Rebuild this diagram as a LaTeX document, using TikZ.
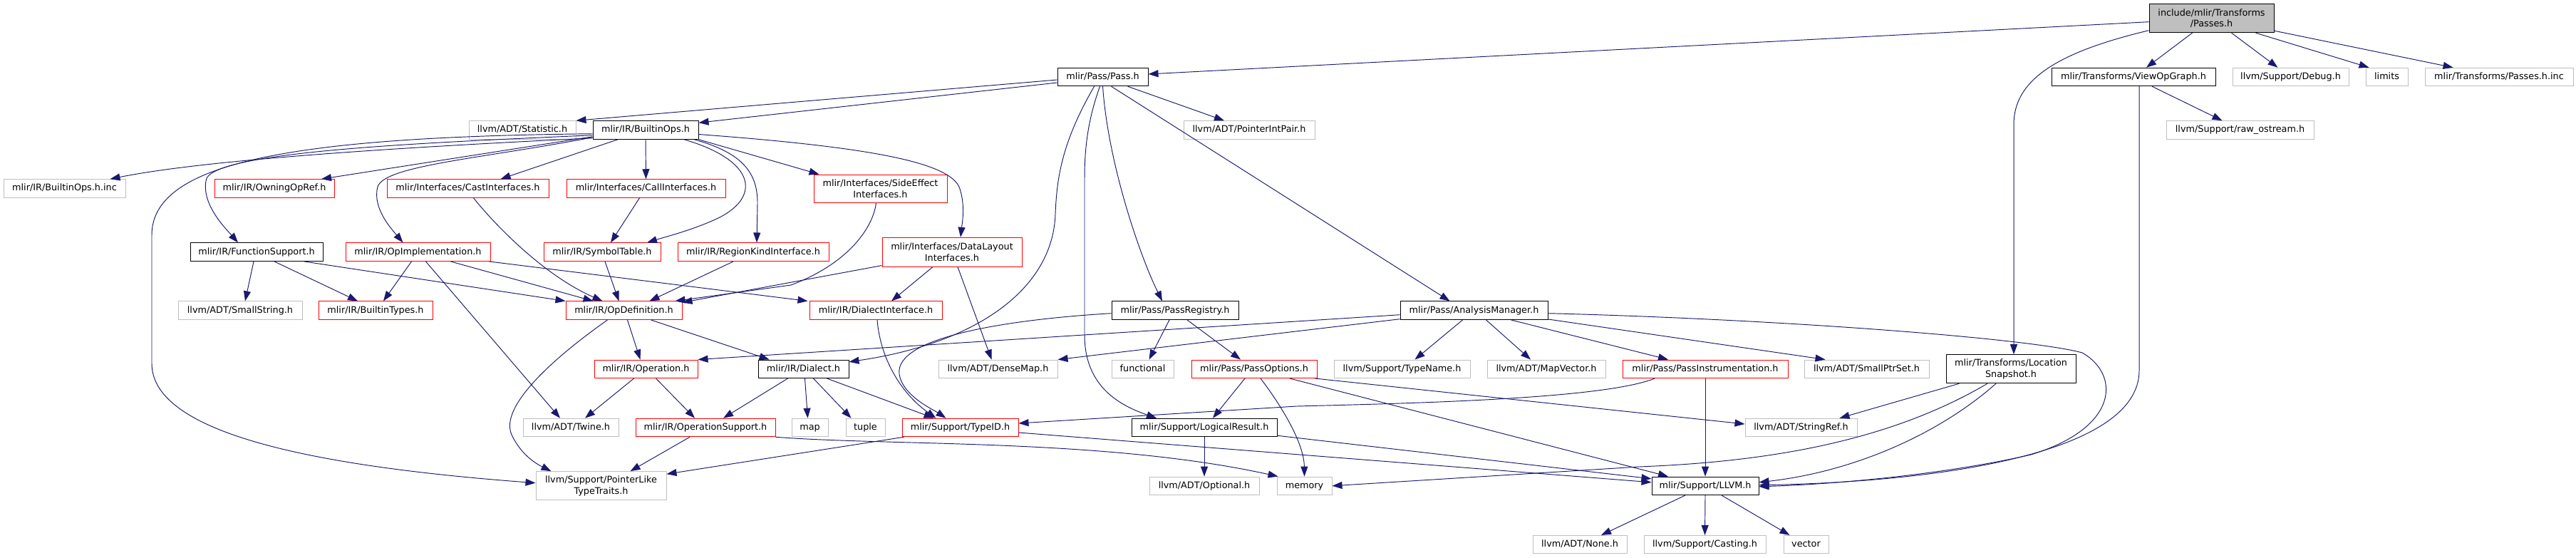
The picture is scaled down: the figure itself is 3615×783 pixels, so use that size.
\documentclass[tikz,border=0pt]{standalone}
\usepackage{fontspec}
\setmainfont{DejaVu Sans}
\usetikzlibrary{arrows.meta}
\definecolor{edgeblue}{HTML}{191970}
\definecolor{extgray}{HTML}{BFBFBF}
\definecolor{rootgray}{HTML}{BFBFBF}
\definecolor{truncred}{HTML}{FF0000}
\begin{document}
\begin{tikzpicture}[x=1pt,y=-1pt,
 nodebase/.style={draw, rectangle, inner sep=0pt, line width=1pt, font=\fontsize{12.8}{15.7}\selectfont},
 one/.style={nodebase, minimum height=25.5pt, text height=9.3pt, text depth=2.7pt},
 two/.style={nodebase, minimum height=40pt, align=center},
 blk/.style={draw=black},
 rednode/.style={draw=truncred},
 grynode/.style={draw=extgray},
 rootnode/.style={draw=black, fill=rootgray},
 dep/.style={draw=edgeblue, line width=0.95pt, -{Triangle[length=14pt,width=10pt]}}]
\useasboundingbox (0,0) rectangle (3615,783);
\fill[white] (0,0) rectangle (3615,783);

% nodes
\node[two,rootnode,minimum width=175pt] (root) at (3103.5,25.7) {include/mlir/Transforms\\/Passes.h};
% row 1
\node[one,blk,minimum width=127pt] (pass) at (1547.5,108) {mlir/Pass/Pass.h};
\node[one,blk,minimum width=230pt] (view) at (2994,108) {mlir/Transforms/ViewOpGraph.h};
\node[one,grynode,minimum width=163pt] (debug) at (3214.5,108) {llvm/Support/Debug.h};
\node[one,grynode,minimum width=59pt] (limits) at (3349.5,108) {limits};
\node[one,grynode,minimum width=208pt] (passinc) at (3507,108) {mlir/Transforms/Passes.h.inc};
% row 2
\node[one,grynode,minimum width=150pt] (stat) at (733,182.5) {llvm/ADT/Statistic.h};
\node[one,blk,minimum width=148pt] (bops) at (906,182.5) {mlir/IR/BuiltinOps.h};
\node[one,grynode,minimum width=184pt] (pip) at (1753,182.5) {llvm/ADT/PointerIntPair.h};
\node[one,grynode,minimum width=207pt] (raw) at (3143.5,182.5) {llvm/Support/raw\_ostream.h};
% row 3
\node[one,grynode,minimum width=171pt] (bopsinc) at (90.5,264.5) {mlir/IR/BuiltinOps.h.inc};
\node[one,rednode,minimum width=168pt] (owning) at (385,264.5) {mlir/IR/OwningOpRef.h};
\node[one,rednode,minimum width=227pt] (cast) at (656.5,264.5) {mlir/Interfaces/CastInterfaces.h};
\node[one,rednode,minimum width=223pt] (call) at (906.5,264.5) {mlir/Interfaces/CallInterfaces.h};
\node[two,rednode,minimum width=187pt,minimum height=39.3pt] (side) at (1235.5,264.7) {mlir/Interfaces/SideEffect\\Interfaces.h};
% row 4
\node[one,blk,minimum width=186pt] (funcs) at (360,353.7) {mlir/IR/FunctionSupport.h};
\node[one,rednode,minimum width=203pt] (opimpl) at (586.5,353.7) {mlir/IR/OpImplementation.h};
\node[one,rednode,minimum width=164pt] (symtab) at (845,353.7) {mlir/IR/SymbolTable.h};
\node[one,rednode,minimum width=212pt] (region) at (1057,353.7) {mlir/IR/RegionKindInterface.h};
\node[two,rednode,minimum width=196pt,minimum height=40.7pt] (datal) at (1336,353.7) {mlir/Interfaces/DataLayout\\Interfaces.h};
% row 5
\node[one,grynode,minimum width=174pt] (smallstr) at (337,435.7) {llvm/ADT/SmallString.h};
\node[one,rednode,minimum width=160pt] (btypes) at (527,435.7) {mlir/IR/BuiltinTypes.h};
\node[one,rednode,minimum width=163pt] (opdef) at (875.5,435.7) {mlir/IR/OpDefinition.h};
\node[one,rednode,minimum width=186pt] (dialint) at (1229,435.7) {mlir/IR/DialectInterface.h};
\node[one,blk,minimum width=178pt] (passreg) at (1649,435.7) {mlir/Pass/PassRegistry.h};
\node[one,blk,minimum width=207pt] (am) at (2068.5,435.7) {mlir/Pass/AnalysisManager.h};
% row 6
\node[one,rednode,minimum width=145pt] (operation) at (906.5,517.8) {mlir/IR/Operation.h};
\node[one,blk,minimum width=127pt] (dialect) at (1127.5,517.8) {mlir/IR/Dialect.h};
\node[one,grynode,minimum width=167pt] (densemap) at (1400.5,517.8) {llvm/ADT/DenseMap.h};
\node[one,grynode,minimum width=87pt] (functional) at (1603.5,517.8) {functional};
\node[one,rednode,minimum width=176pt] (passopt) at (1760,517.8) {mlir/Pass/PassOptions.h};
\node[one,grynode,minimum width=191pt] (typename) at (1967.5,517.8) {llvm/Support/TypeName.h};
\node[one,grynode,minimum width=166pt] (mapvec) at (2170,517.8) {llvm/ADT/MapVector.h};
\node[one,rednode,minimum width=232pt] (passinst) at (2393,517.8) {mlir/Pass/PassInstrumentation.h};
\node[one,grynode,minimum width=175pt] (smallptr) at (2619.5,517.8) {llvm/ADT/SmallPtrSet.h};
\node[two,blk,minimum width=182pt] (locsnap) at (2822,517.7) {mlir/Transforms/Location\\Snapshot.h};
% row 7
\node[one,grynode,minimum width=134pt] (twine) at (801,600) {llvm/ADT/Twine.h};
\node[one,rednode,minimum width=196pt] (opsupp) at (990,600) {mlir/IR/OperationSupport.h};
\node[one,grynode,minimum width=51pt] (map) at (1136.5,600) {map};
\node[one,grynode,minimum width=55pt] (tuple) at (1214.5,600) {tuple};
\node[one,rednode,minimum width=163pt] (typeid) at (1347.5,600) {mlir/Support/TypeID.h};
\node[one,blk,minimum width=204pt] (logres) at (1690,600) {mlir/Support/LogicalResult.h};
\node[one,grynode,minimum width=157pt] (stringref) at (2527.5,600) {llvm/ADT/StringRef.h};
% row 8
\node[two,grynode,minimum width=183pt] (plike) at (843.5,681.7) {llvm/Support/PointerLike\\TypeTraits.h};
\node[one,grynode,minimum width=154pt] (optional) at (1690,681.8) {llvm/ADT/Optional.h};
\node[one,grynode,minimum width=77pt] (memory) at (1830.5,681.8) {memory};
\node[one,blk,minimum width=150pt] (llvm) at (2393,681.8) {mlir/Support/LLVM.h};
% row 9
\node[one,grynode,minimum width=132pt] (none) at (2217,764.2) {llvm/ADT/None.h};
\node[one,grynode,minimum width=171pt] (casting) at (2392.5,764.2) {llvm/Support/Casting.h};
\node[one,grynode,minimum width=63pt] (vector) at (2534.5,764.2) {vector};

% edges from root
\draw[dep] ([yshift=-5pt]root.west) -- ([yshift=4pt]pass.east);
\draw[dep] ([yshift=-17pt]root.west) .. controls (2880,75) and (2826,115) .. (2826,175) -- ([xshift=4pt]locsnap.north);
\draw[dep] ([xshift=-27pt]root.south) -- ([xshift=18pt]view.north);
\draw[dep] ([xshift=28pt]root.south) -- ([xshift=-18pt]debug.north);
\draw[dep] ([xshift=62pt]root.south) -- ([xshift=5pt]limits.north west);
\draw[dep] ([yshift=3pt]root.south east) -- ([xshift=40pt]passinc.north west);
% ViewOpGraph
\draw[dep] ([xshift=26pt]view.south) -- ([xshift=-25pt]raw.north);
\draw[dep] ([xshift=8pt]view.south) -- (3002,520) .. controls (3002,630) and (2750,675) .. ([yshift=1pt]llvm.east);
% LocationSnapshot
\draw[dep] ([xshift=19pt]locsnap.south west) -- ([xshift=54pt]stringref.north);
\draw[dep] ([xshift=-21pt]locsnap.south) .. controls (2720,610) and (2600,662) .. ([yshift=5pt]llvm.east);
\draw[dep] ([xshift=-33pt]locsnap.south) .. controls (2650,620) and (2480,648) .. (2300,655) -- (memory.east);
% Pass.h
\draw[dep] ([yshift=-4pt]pass.west) -- (stat.north east);
\draw[dep] ([yshift=-8pt]pass.west) -- ([yshift=-3pt]bops.north east);
\draw[dep] ([xshift=35pt]pass.south) -- ([xshift=-35pt]pip.north);
\draw[dep] ([xshift=-12pt]pass.south) .. controls (1490,200) and (1483,250) .. (1481,300) .. controls (1478,400) and (1380,480) .. ([yshift=10pt]dialect.east);
\draw[dep] ([xshift=-4pt]pass.south) .. controls (1526,170) and (1522,210) .. (1522,250) -- (1522,470) .. controls (1522,545) and (1575,570) .. ([xshift=-67pt]logres.north);
\draw[dep] (pass.south) .. controls (1555,230) and (1600,360) .. ([xshift=-18pt]passreg.north);
\draw[dep] ([xshift=12pt]pass.south) -- ([xshift=-34pt]am.north);
% BuiltinOps.h
\draw[dep] (bops.south) -- (call.north);
\draw[dep] ([xshift=-39pt]bops.south) -- ([xshift=46pt]cast.north);
\draw[dep] (bops.south east) -- ([xshift=8pt]side.north west);
\draw[dep] ([xshift=54pt]bops.south) .. controls (1060,225) and (1068,275) .. (1010,305) .. controls (975,322) and (935,332) .. ([xshift=63pt]symtab.north);
\draw[dep] ([xshift=68pt]bops.south) .. controls (1045,215) and (1063,245) .. (1063,285) -- ([xshift=5pt]region.north);
\draw[dep] ([yshift=-6pt]bops.east) .. controls (1200,205) and (1335,225) .. (1347,265) .. controls (1355,290) and (1350,315) .. ([xshift=12pt]datal.north);
\draw[dep] ([yshift=2pt]bops.south west) .. controls (600,205) and (300,222) .. ([xshift=64pt]bopsinc.north);
\draw[dep] ([yshift=4pt]bops.south west) -- ([xshift=66pt]owning.north);
\draw[dep] ([yshift=3pt]bops.south west) .. controls (680,222) and (540,232) .. (530,262) .. controls (522,292) and (550,322) .. ([xshift=-21pt]opimpl.north);
\draw[dep] ([yshift=6pt]bops.south west) .. controls (600,200) and (310,212) .. (290,250) .. controls (280,285) and (318,322) .. ([xshift=-26pt]funcs.north);
\draw[dep] ([yshift=8pt]bops.south west) .. controls (400,192) and (213,230) .. (213,330) -- (213,510) .. controls (213,610) and (450,655) .. ([yshift=4pt]plike.west);
% FunctionSupport
\draw[dep] ([xshift=-4pt]funcs.south) -- ([xshift=7pt]smallstr.north);
\draw[dep] ([xshift=25pt]funcs.south) -- ([xshift=-25pt]btypes.north);
\draw[dep] ([xshift=67pt]funcs.south) -- (opdef.north west);
% OpImplementation
\draw[dep] ([xshift=-9pt]opimpl.south) -- ([xshift=11pt]btypes.north);
\draw[dep] ([xshift=11pt]opimpl.south) -- ([xshift=-15pt]twine.north);
\draw[dep] ([xshift=46pt]opimpl.south) -- ([xshift=-43pt]opdef.north);
\draw[dep] ([xshift=-2pt]opimpl.south east) -- ([xshift=-2pt]dialint.north west);
% interfaces
\draw[dep] ([xshift=8pt]cast.south) .. controls (690,310) and (760,385) .. ([xshift=-30pt]opdef.north);
\draw[dep] ([xshift=-9pt]call.south) -- ([xshift=12pt]symtab.north);
\draw[dep] ([xshift=4pt]symtab.south) -- ([xshift=-7pt]opdef.north);
\draw[dep] ([xshift=-28pt]region.south) -- ([xshift=36pt]opdef.north);
\draw[dep] ([xshift=-6pt]side.south) .. controls (1225,320) and (1190,370) .. (1110,400) -- ([xshift=-10pt]opdef.north east);
\draw[dep] ([yshift=2pt]datal.south west) -- ([yshift=-2pt]opdef.north east);
\draw[dep] ([xshift=-27pt]datal.south) -- ([xshift=22pt]dialint.north);
\draw[dep] ([xshift=8pt]datal.south) -- ([xshift=-9pt]densemap.north);
% OpDefinition
\draw[dep] ([xshift=5pt]opdef.south) -- ([xshift=-8pt]operation.north);
\draw[dep] ([xshift=38pt]opdef.south) -- ([xshift=-48pt]dialect.north);
\draw[dep] ([xshift=-23pt]opdef.south) .. controls (780,500) and (700,570) .. (718,610) .. controls (732,640) and (755,652) .. ([xshift=-70pt]plike.north);
% DialectInterface
\draw[dep] ([xshift=2pt]dialint.south) .. controls (1235,500) and (1262,550) .. ([xshift=-34pt]typeid.north);
% Operation
\draw[dep] ([xshift=-17pt]operation.south) -- ([xshift=20pt]twine.north);
\draw[dep] ([xshift=14pt]operation.south) -- ([xshift=-15pt]opsupp.north);
% Dialect
\draw[dep] ([xshift=-22pt]dialect.south) -- ([xshift=25pt]opsupp.north);
\draw[dep] ([xshift=2pt]dialect.south) -- ([xshift=-3pt]map.north);
\draw[dep] ([xshift=14pt]dialect.south) -- ([xshift=-20pt]tuple.north);
\draw[dep] ([xshift=33pt]dialect.south) -- ([xshift=-37pt]typeid.north);
% OperationSupport
\draw[dep] ([xshift=-22pt]opsupp.south) -- ([xshift=41pt]plike.north);
\draw[dep] (opsupp.south east) .. controls (1250,626) and (1550,615) .. ([xshift=2pt]memory.north west);
% TypeID
\draw[dep] ([xshift=3pt]typeid.south west) -- ([yshift=-4pt]plike.north east);
\draw[dep] ([yshift=-7pt]typeid.east) -- ([yshift=5pt]llvm.west);
% PassRegistry
\draw[dep] ([xshift=-8pt]passreg.south) -- ([xshift=9pt]functional.north);
\draw[dep] ([xshift=17pt]passreg.south) -- ([xshift=-19pt]passopt.north);
\draw[dep] ([yshift=-4pt]passreg.west) .. controls (1420,448) and (1255,472) .. (1262,525) .. controls (1266,555) and (1310,575) .. ([xshift=-20pt]typeid.north);
% PassOptions
\draw[dep] ([xshift=-13pt]passopt.south) -- ([xshift=12pt]logres.north);
\draw[dep] ([xshift=9pt]passopt.south) .. controls (1795,565) and (1830,620) .. (memory.north);
\draw[dep] ([xshift=50pt]passopt.south) -- ([xshift=-52pt]llvm.north);
\draw[dep] ([xshift=-3pt]passopt.south east) -- ([yshift=5pt]stringref.west);
% AnalysisManager
\draw[dep] ([yshift=-6pt]am.west) -- (operation.north east);
\draw[dep] ([yshift=-12pt]am.west) -- (densemap.north east);
\draw[dep] ([xshift=-16pt]am.south) -- ([xshift=18pt]typename.north);
\draw[dep] ([xshift=17pt]am.south) -- ([xshift=-22pt]mapvec.north);
\draw[dep] ([xshift=52pt]am.south) -- ([xshift=-52pt]passinst.north);
\draw[dep] ([yshift=1pt]am.south east) -- ([xshift=30pt]smallptr.north west);
\draw[dep] ([yshift=-4pt]am.east) .. controls (2500,448) and (2850,475) .. (2922,495) .. controls (2975,525) and (2975,600) .. (2850,638) .. controls (2720,668) and (2560,680) .. ([yshift=-1pt]llvm.east);
% PassInstrumentation
\draw[dep] (passinst.south) -- (llvm.north);
\draw[dep] ([xshift=-71pt]passinst.south) .. controls (2250,560) and (1980,566) .. (1820,570) -- ([yshift=6pt]typeid.east);
% LogicalResult
\draw[dep] (logres.south) -- (optional.north);
\draw[dep] ([yshift=2pt]logres.south east) -- ([yshift=10pt]llvm.west);
% LLVM
\draw[dep] ([xshift=-28pt]llvm.south) -- ([xshift=30pt]none.north);
\draw[dep] (llvm.south) -- (casting.north);
\draw[dep] ([xshift=23pt]llvm.south) -- ([xshift=-23pt]vector.north);
\end{tikzpicture}
\end{document}
